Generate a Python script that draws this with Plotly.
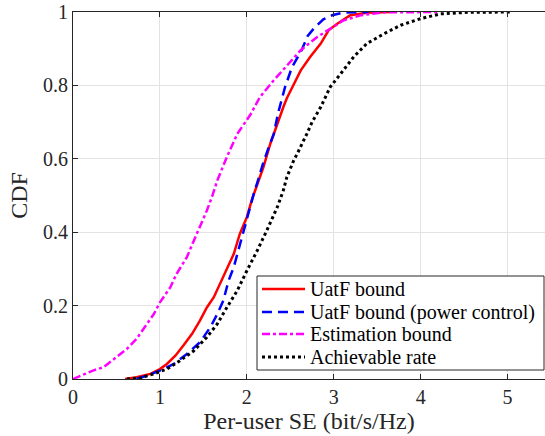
import plotly.graph_objects as go

# ---- data ----
uatf_x = [0.60, 0.73, 0.89, 1.00, 1.08, 1.18, 1.27, 1.37, 1.46, 1.54, 1.62, 1.69, 1.77, 1.85, 1.92,
          2.00, 2.06, 2.12, 2.19, 2.27, 2.35, 2.42, 2.46, 2.54, 2.62, 2.73, 2.85, 2.94, 3.04, 3.19,
          3.38, 3.65]
uatf_y = [0.000, 0.005, 0.014, 0.027, 0.041, 0.064, 0.091, 0.123, 0.159, 0.195, 0.223, 0.259, 0.300,
          0.341, 0.396, 0.441, 0.490, 0.532, 0.577, 0.641, 0.696, 0.741, 0.765, 0.805, 0.841, 0.878,
          0.914, 0.950, 0.968, 0.991, 0.998, 1.000]

pc_x = [0.73, 0.85, 1.00, 1.16, 1.31, 1.46, 1.58, 1.66, 1.73, 1.79, 1.85, 1.90, 1.96, 2.02, 2.08,
        2.12, 2.19, 2.25, 2.31, 2.36, 2.44, 2.52, 2.63, 2.70, 2.77, 2.88, 2.98, 3.10, 3.40]
pc_y = [0.000, 0.009, 0.023, 0.041, 0.068, 0.100, 0.141, 0.177, 0.214, 0.268, 0.305, 0.350, 0.405,
        0.459, 0.505, 0.535, 0.590, 0.630, 0.668, 0.725, 0.796, 0.850, 0.896, 0.935, 0.955, 0.980,
        0.991, 0.998, 1.000]

est_x = [0.00, 0.10, 0.23, 0.35, 0.50, 0.62, 0.73, 0.85, 0.93, 1.00, 1.12, 1.19, 1.31, 1.39, 1.46,
         1.54, 1.60, 1.66, 1.77, 1.89, 2.04, 2.15, 2.31, 2.46, 2.62, 2.81, 2.96, 3.11, 3.31, 3.58,
         4.19]
est_y = [0.000, 0.010, 0.023, 0.032, 0.059, 0.082, 0.109, 0.150, 0.177, 0.209, 0.250, 0.286, 0.332,
         0.377, 0.414, 0.459, 0.497, 0.541, 0.605, 0.668, 0.720, 0.768, 0.814, 0.855, 0.896, 0.932,
         0.955, 0.977, 0.991, 0.999, 1.000]

ach_x = [0.62, 0.77, 0.93, 1.08, 1.23, 1.39, 1.54, 1.66, 1.77, 1.89, 2.00, 2.12, 2.23, 2.35, 2.42,
         2.46, 2.54, 2.58, 2.69, 2.75, 2.85, 2.96, 3.08, 3.23, 3.38, 3.58, 3.77, 4.00, 4.23, 4.54,
         5.03]
ach_y = [0.000, 0.003, 0.014, 0.027, 0.050, 0.077, 0.114, 0.150, 0.195, 0.241, 0.295, 0.350, 0.405,
         0.468, 0.514, 0.550, 0.596, 0.614, 0.668, 0.700, 0.741, 0.796, 0.832, 0.878, 0.914, 0.941,
         0.964, 0.982, 0.995, 0.999, 1.000]

series_names = ["UatF bound", "UatF bound (power control)", "Estimation bound", "Achievable rate"]

x_ticks = [0, 1, 2, 3, 4, 5]
y_ticks = [0, 0.2, 0.4, 0.6, 0.8, 1]
y_tick_labels = ["0", "0.2", "0.4", "0.6", "0.8", "1"]

# ---- styling ----
FONT = "Liberation Serif"
AX = "#262626"
W, H = 545, 436
ML, MR, MT, MB = 73, 0, 12, 57
PW, PH = W - ML - MR, H - MT - MB

styles = [
    dict(color="#ff0000", width=2.5),
    dict(color="#0000ff", width=2.5, dash="10px,6px"),
    dict(color="#ff00ff", width=2.5, dash="8px,3px,3px,3px"),
    dict(color="#000000", width=3, dash="3px,3px"),
]

fig = go.Figure()
for xs, ys, name, st in zip([uatf_x, pc_x, est_x, ach_x], [uatf_y, pc_y, est_y, ach_y],
                            series_names, styles):
    fig.add_trace(go.Scatter(x=xs, y=ys, mode="lines", name=name, line=st, showlegend=False))


def px(xpix):
    return (xpix - ML) / PW


def py(ypix):
    return (MT + PH - ypix) / PH


# ---- legend drawn manually (box, line samples, labels) ----
box_l, box_r, box_t, box_b = 257, 544, 276, 370
row_y = [289, 312, 334, 357]
fig.add_shape(type="rect", xref="paper", yref="paper",
              x0=px(box_l), x1=px(box_r), y0=py(box_b), y1=py(box_t),
              line=dict(color=AX, width=1), fillcolor="white", layer="above")
for name, st, ry in zip(series_names, styles, row_y):
    fig.add_shape(type="line", xref="paper", yref="paper",
                  x0=px(262), x1=px(305), y0=py(ry), y1=py(ry),
                  line=st, layer="above")
    fig.add_annotation(x=px(308), y=py(ry), xref="paper", yref="paper",
                       text=name, showarrow=False, xanchor="left", yanchor="middle",
                       font=dict(family=FONT, size=20, color="#000000"))

fig.update_layout(
    width=W, height=H,
    margin=dict(l=ML, r=MR, t=MT, b=MB),
    paper_bgcolor="white", plot_bgcolor="white",
    font=dict(family=FONT, color=AX, size=20),
    showlegend=False,
    xaxis=dict(range=[0, 5.43], tickvals=x_ticks, ticktext=[str(v) for v in x_ticks],
               showgrid=True, gridcolor="#e3e3e3", gridwidth=1,
               showline=True, linecolor=AX, linewidth=1, mirror="ticks",
               ticks="inside", ticklen=5, tickcolor=AX,
               zeroline=False, tickfont=dict(family=FONT, size=20, color=AX),
               title=dict(text="Per-user SE (bit/s/Hz)", font=dict(family=FONT, size=24, color=AX),
                          standoff=2)),
    yaxis=dict(range=[0, 1], tickvals=y_ticks, ticktext=y_tick_labels,
               showgrid=True, gridcolor="#e3e3e3", gridwidth=1,
               showline=True, linecolor=AX, linewidth=1,
               ticks="inside", ticklen=5, tickcolor=AX,
               zeroline=False, tickfont=dict(family=FONT, size=20, color=AX),
               title=dict(text="CDF", font=dict(family=FONT, size=24, color=AX), standoff=8)),
)

fig.write_html("out.html")
